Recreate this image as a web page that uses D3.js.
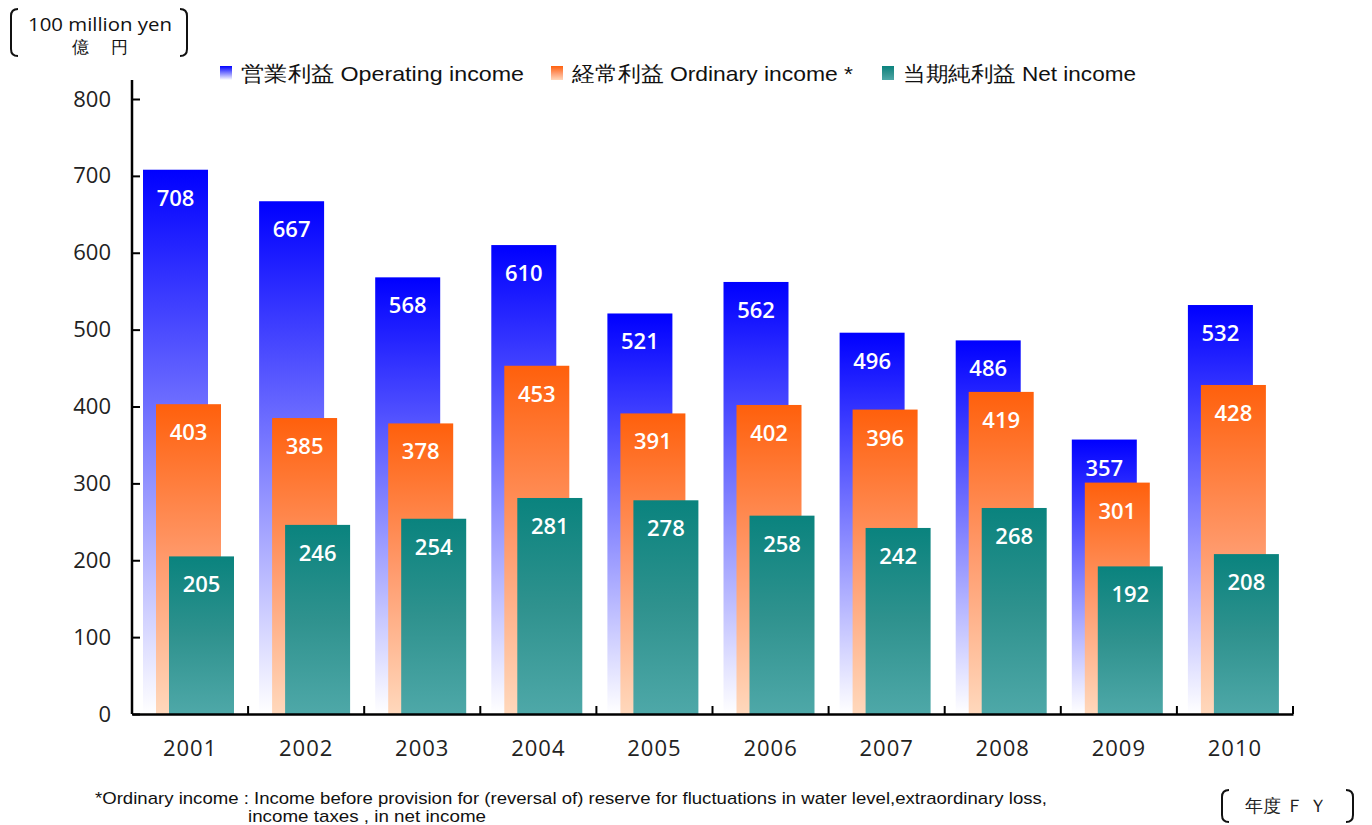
<!DOCTYPE html>
<html>
<head>
<meta charset="utf-8">
<script src="https://cdn.jsdelivr.net/npm/d3@7"></script>
<style>
  body { margin: 0; background: #fff; }
  svg text { font-family: "Liberation Sans", Arial, sans-serif; }
</style>
</head>
<body>
<div id="chart"></div>
<script>
// data
const years = ["2001","2002","2003","2004","2005","2006","2007","2008","2009","2010"];
const operatingIncome = [708, 667, 568, 610, 521, 562, 496, 486, 357, 532];
const ordinaryIncome = [403, 385, 378, 453, 391, 402, 396, 419, 301, 428];
const netIncome = [205, 246, 254, 281, 278, 258, 242, 268, 192, 208];
const yTicks = [0, 100, 200, 300, 400, 500, 600, 700, 800];
const seriesNames = ["営業利益 Operating income", "経常利益 Ordinary income *", "当期純利益 Net income"];

const W = 1372, H = 825;
const margin = {top: 99, right: 79, bottom: 111, left: 132};
const width = W - margin.left - margin.right;
const height = H - margin.top - margin.bottom;

const svg = d3.select("#chart").append("svg")
    .attr("width", W).attr("height", H);

// gradients per series
const defs = svg.append("defs");
const grads = [
    {id: "gBlue", stops: [["0%", "#0000ff"], ["55%", "#8c8cff"], ["100%", "#ffffff"]]},
    {id: "gOrange", stops: [["0%", "#ff600c"], ["50%", "#ff9a6c"], ["100%", "#ffd8bc"]]},
    {id: "gTeal", stops: [["0%", "#0a837e"], ["50%", "#2f928e"], ["100%", "#4ea8a8"]]}
];
grads.forEach(g => {
    const lg = defs.append("linearGradient").attr("id", g.id)
        .attr("x1", 0).attr("y1", 0).attr("x2", 0).attr("y2", 1);
    g.stops.forEach(s => lg.append("stop").attr("offset", s[0]).attr("stop-color", s[1]));
});

const g = svg.append("g").attr("transform", "translate(" + margin.left + "," + margin.top + ")");

const xScale = d3.scaleBand().domain(years).range([0, width]);
const yScale = d3.scaleLinear().domain([0, 800]).range([height, 0]);

// bars: three overlapping series, each shifted right by ~12px
const barW = 65;
const series = [
    {values: operatingIncome, fill: "url(#gBlue)", off: 11},
    {values: ordinaryIncome, fill: "url(#gOrange)", off: 24},
    {values: netIncome, fill: "url(#gTeal)", off: 37}
];

series.forEach((s, si) => {
    const grp = g.append("g").attr("class", "series" + si);
    const rows = years.map((y, i) => ({year: y, value: s.values[i]}));
    grp.selectAll("rect")
        .data(rows)
        .join("rect")
        .attr("x", d => xScale(d.year) + s.off)
        .attr("y", d => yScale(d.value))
        .attr("width", barW)
        .attr("height", d => height - yScale(d.value))
        .attr("fill", s.fill);
    grp.selectAll("text")
        .data(rows)
        .join("text")
        .attr("x", d => xScale(d.year) + s.off + barW / 2)
        .attr("y", d => yScale(d.value) + 36)
        .attr("text-anchor", "middle")
        .attr("fill", "#fff")
        .style("font-family", "'Open Sans', sans-serif")
        .style("font-weight", "600")
        .style("font-size", "22px")
        .text(d => d.value);
});

// axes
const yAxis = g.append("g")
    .call(d3.axisLeft(yScale).tickValues(yTicks).tickSize(-8).tickPadding(21));
yAxis.select(".domain").attr("stroke", "#000").attr("stroke-width", 2.5)
    .attr("d", "M0,-19V" + height);
yAxis.selectAll(".tick line").attr("stroke", "#000").attr("stroke-width", 2);
yAxis.selectAll(".tick text")
    .attr("fill", "#222")
    .style("font-family", "'Open Sans', sans-serif")
    .style("font-size", "22px");

const xAxis = g.append("g").attr("transform", "translate(0," + height + ")")
    .call(d3.axisBottom(xScale).tickSize(0).tickPadding(26));
xAxis.select(".domain").attr("stroke", "#000").attr("stroke-width", 2.5);
xAxis.selectAll(".tick text")
    .attr("fill", "#222")
    .style("font-family", "'Open Sans', sans-serif")
    .style("font-size", "22px")
    .style("letter-spacing", "1px");
// category boundary ticks, pointing up
g.append("g").selectAll("line")
    .data(years)
    .join("line")
    .attr("x1", d => xScale(d) + xScale.bandwidth())
    .attr("x2", d => xScale(d) + xScale.bandwidth())
    .attr("y1", height)
    .attr("y2", height - 8)
    .attr("stroke", "#000").attr("stroke-width", 2);

// legend
const legendX = [220, 551, 882];
const legendW = [283, 281, 233];
const legendFills = ["url(#gBlue)", "url(#gOrange)", "url(#gTeal)"];
const legend = svg.append("g");
seriesNames.forEach((name, i) => {
    legend.append("rect")
        .attr("x", legendX[i]).attr("y", 66)
        .attr("width", 12).attr("height", 14)
        .attr("fill", legendFills[i]);
    legend.append("text")
        .attr("x", legendX[i] + 21).attr("y", 81)
        .attr("fill", "#111")
        .attr("textLength", legendW[i])
        .attr("lengthAdjust", "spacingAndGlyphs")
        .style("font-size", "21px")
        .text(name);
});

// unit label with brackets
function bracket(x, y1, y2, dir) {
    const r = 7;
    return "M" + (x + dir * r) + "," + y1 + " Q" + x + "," + y1 + " " + x + "," + (y1 + r) +
        " V" + (y2 - r) + " Q" + x + "," + y2 + " " + (x + dir * r) + "," + y2;
}
svg.append("path").attr("d", bracket(11, 9, 56, 1)).attr("fill", "none").attr("stroke", "#111").attr("stroke-width", 2);
svg.append("path").attr("d", bracket(187, 9, 56, -1)).attr("fill", "none").attr("stroke", "#111").attr("stroke-width", 2);
svg.append("text").attr("x", 100).attr("y", 31).attr("text-anchor", "middle")
    .attr("fill", "#111").style("font-family", "'Open Sans', sans-serif").style("font-size", "18px")
    .attr("textLength", 144).attr("lengthAdjust", "spacingAndGlyphs")
    .text("100 million yen");
svg.append("text").attr("x", 100).attr("y", 53).attr("text-anchor", "middle")
    .attr("fill", "#111").style("font-size", "17px").attr("xml:space", "preserve").text("億　 円");

// FY label
svg.append("path").attr("d", bracket(1222, 790, 822, 1)).attr("fill", "none").attr("stroke", "#111").attr("stroke-width", 2);
svg.append("path").attr("d", bracket(1353, 790, 822, -1)).attr("fill", "none").attr("stroke", "#111").attr("stroke-width", 2);
svg.append("text").attr("x", 1286).attr("y", 812).attr("text-anchor", "middle")
    .attr("fill", "#222").style("font-size", "18px").attr("xml:space", "preserve").text("年度 Ｆ Ｙ");

// footnote
svg.append("text").attr("x", 95).attr("y", 804)
    .attr("fill", "#111").style("font-size", "17px")
    .attr("textLength", 952).attr("lengthAdjust", "spacingAndGlyphs")
    .text("*Ordinary income : Income before provision for (reversal of) reserve for fluctuations in water level,extraordinary loss,");
svg.append("text").attr("x", 248).attr("y", 822)
    .attr("fill", "#111").style("font-size", "17px")
    .attr("textLength", 238).attr("lengthAdjust", "spacingAndGlyphs")
    .text("income taxes , in net income");
</script>
</body>
</html>
